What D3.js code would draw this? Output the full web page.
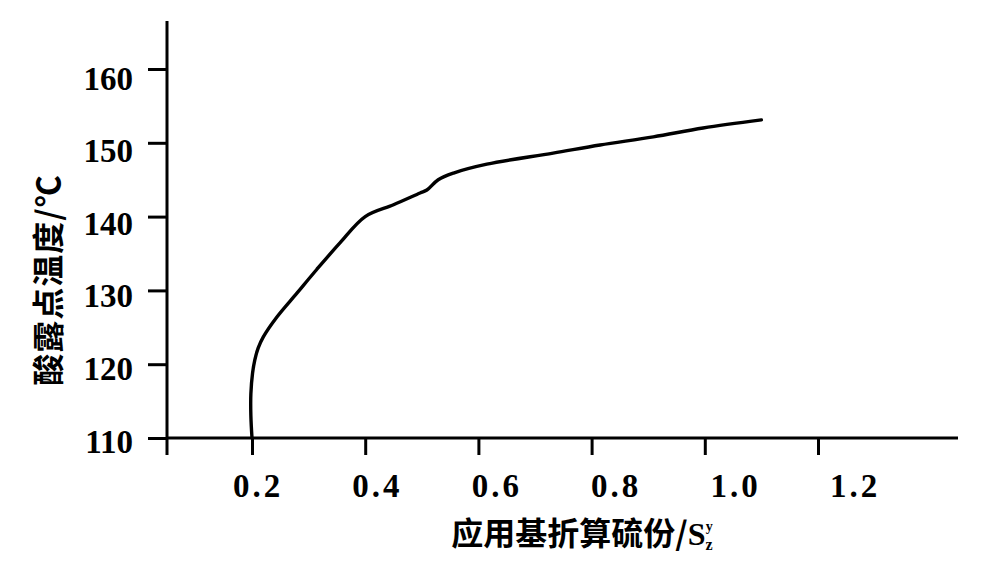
<!DOCTYPE html>
<html>
<head>
<meta charset="utf-8">
<script src="https://cdn.jsdelivr.net/npm/d3@7/dist/d3.min.js"></script>
<style>
  html, body { margin: 0; padding: 0; background: #fff; }
  svg { display: block; }
</style>
</head>
<body>
<svg id="chart" width="1000" height="571"></svg>
<script>
// ---- data ----
const sulfur = [0.2, 0.198, 0.198, 0.201, 0.205, 0.211, 0.220, 0.244, 0.279, 0.314, 0.355, 0.400, 0.450, 0.497, 0.509, 0.529, 0.556, 0.615, 0.732, 0.815, 0.909, 0.997, 1.100];
const dewPoint = [110, 113, 116, 118.8, 120.6, 122.2, 123.7, 126.4, 129.6, 132.8, 136.4, 140.0, 141.6, 143.2, 143.6, 145.0, 145.9, 147.1, 148.6, 149.7, 150.8, 152.0, 153.1];
const xTicks = [0.2, 0.4, 0.6, 0.8, 1.0, 1.2];
const xTickLabels = ["0.2", "0.4", "0.6", "0.8", "1.0", "1.2"];
const yTicks = [110, 120, 130, 140, 150, 160];
const yTickLabels = ["110", "120", "130", "140", "150", "160"];
const xTitle = "应用基折算硫份/";
const yTitle = "酸露点温度/℃";

// ---- layout ----
const svg = d3.select("#chart");
const x = d3.scaleLinear().domain([0.2, 1.2]).range([252, 818]);
const y = d3.scaleLinear().domain([110, 160]).range([438, 69]);
// label placement scales (labels in the scan sit slightly off the ticks)
const xLab = d3.scaleLinear().domain([0.2, 1.2]).range([256, 853]);
const yLab = d3.scaleLinear().domain([110, 160]).range([452, 89]);
const xMin = x.invert(167), xMax = x.invert(958);
const yTop = y.invert(21), yBottom = y.invert(455);

const numFont = "'Liberation Serif', 'DejaVu Serif', serif";
const cjkFont = "'Noto Sans CJK SC', 'Noto Sans CJK JP', sans-serif";

// axis lines
svg.append("line")
  .attr("x1", x(xMin)).attr("x2", x(xMin))
  .attr("y1", y(yTop)).attr("y2", y(yBottom))
  .attr("stroke", "#000").attr("stroke-width", 3);
svg.append("line")
  .attr("x1", x(xMin)).attr("x2", x(xMax))
  .attr("y1", y(110)).attr("y2", y(110))
  .attr("stroke", "#000").attr("stroke-width", 3);

// y axis
const yAxis = svg.append("g")
  .attr("transform", `translate(${x(xMin)},0)`)
  .call(d3.axisLeft(y).tickValues(yTicks).tickSize(19).tickPadding(15)
    .tickFormat((d, i) => yTickLabels[i]));
yAxis.select(".domain").remove();
yAxis.selectAll(".tick line").attr("stroke", "#000").attr("stroke-width", 3);
yAxis.selectAll(".tick text")
  .attr("font-family", numFont).attr("font-weight", "bold")
  .attr("font-size", 33).attr("fill", "#000")
  .attr("dy", null)
  .attr("y", d => yLab(d) - y(d));

// x axis
const xAxis = svg.append("g")
  .attr("transform", `translate(0,${y(110)})`)
  .call(d3.axisBottom(x).tickValues(xTicks).tickSize(17).tickPadding(10)
    .tickFormat((d, i) => xTickLabels[i]));
xAxis.select(".domain").remove();
xAxis.selectAll(".tick line").attr("stroke", "#000").attr("stroke-width", 3);
xAxis.selectAll(".tick text")
  .attr("font-family", numFont).attr("font-weight", "bold")
  .attr("font-size", 33).attr("fill", "#000")
  .attr("letter-spacing", 3)
  .attr("dy", null)
  .attr("y", 59)
  .attr("x", d => xLab(d) - x(d) + 1.5);

// curve
const pts = sulfur.map((s, i) => [s, dewPoint[i]]);
const line = d3.line()
  .x(d => x(d[0])).y(d => y(d[1]))
  .curve(d3.curveCatmullRom.alpha(0.5));
svg.append("path")
  .attr("d", line(pts))
  .attr("fill", "none").attr("stroke", "#000")
  .attr("stroke-width", 3.4).attr("stroke-linejoin", "round").attr("stroke-linecap", "round");

// x title
const xt = svg.append("text")
  .attr("x", 582).attr("y", 545)
  .attr("text-anchor", "middle")
  .attr("font-family", cjkFont).attr("font-weight", "bold")
  .attr("font-size", 32).attr("fill", "#000");
xt.append("tspan").text(xTitle);
xt.append("tspan").attr("font-family", numFont).text("S");
xt.append("tspan").attr("font-family", numFont).attr("font-size", 16).attr("dy", 5).text("z");
xt.append("tspan").attr("font-family", numFont).attr("font-size", 14).attr("dx", -7).attr("dy", -19).text("y");

// y title
svg.append("text")
  .attr("transform", "translate(46,280) rotate(-90)")
  .attr("text-anchor", "middle")
  .attr("dominant-baseline", "central")
  .attr("font-family", cjkFont).attr("font-weight", "bold")
  .attr("font-size", 32).attr("letter-spacing", 1).attr("fill", "#000")
  .text(yTitle);
</script>
</body>
</html>
